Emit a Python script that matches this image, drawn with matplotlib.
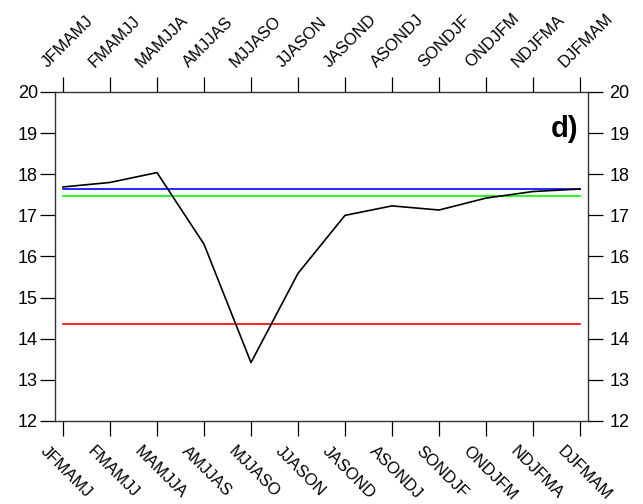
import numpy as np
import matplotlib
matplotlib.use('Agg')
import matplotlib.pyplot as plt
from matplotlib.transforms import ScaledTranslation

plt.rcParams['font.family'] = ['Liberation Sans', 'DejaVu Sans']

seasons = ['JFMAMJ', 'FMAMJJ', 'MAMJJA', 'AMJJAS', 'MJJASO', 'JJASON',
           'JASOND', 'ASONDJ', 'SONDJF', 'ONDJFM', 'NDJFMA', 'DJFMAM']
running = [17.69, 17.80, 18.04, 16.30, 13.42, 15.59,
           17.00, 17.23, 17.13, 17.42, 17.58, 17.64]
blue_level = 17.64
green_level = 17.47
red_level = 14.36

fig = plt.figure(figsize=(6.43, 5.04), dpi=100)
ax = fig.add_axes([0.0855, 0.1647, 0.829, 0.6528])

x = np.arange(len(seasons))
ax.plot(x, [blue_level] * len(x), color='#0000ff', lw=1.2)
ax.plot(x, [green_level] * len(x), color='#00ff00', lw=1.2)
ax.plot(x, [red_level] * len(x), color='#ff0000', lw=1.2)
ax.plot(x, running, color='black', lw=1.2)

ax.set_xlim(-0.17, 11.17)
ax.set_ylim(12, 20)
ax.set_yticks(range(12, 21))
ax.set_xticks(x)
ax.set_xticklabels(seasons)

for s in ax.spines.values():
    s.set_linewidth(1.0)
    s.set_color('#333333')

ax.tick_params(axis='x', direction='out', length=10.8, width=0.9,
               top=True, labeltop=True, pad=0, labelsize=12)
ax.tick_params(axis='y', direction='out', length=10.8, width=0.9,
               left=True, pad=1.5, labelsize=13)

# right-hand y axis with its own label spacing
ax2 = ax.twinx()
ax2.set_ylim(12, 20)
ax2.set_yticks(range(12, 21))
ax2.tick_params(axis='y', direction='out', length=10.8, width=0.9,
                pad=4.5, labelsize=13)
for s in ax2.spines.values():
    s.set_visible(False)

# rotated season labels, shifted off the tick a bit
dpi = fig.dpi
for tick in ax.xaxis.get_major_ticks():
    lb = tick.label1
    lb.set_rotation(-45)
    lb.set_rotation_mode('anchor')
    lb.set_ha('left')
    lb.set_va('top')
    lb.set_transform(lb.get_transform() +
                     ScaledTranslation(-15 / dpi, -8 / dpi, fig.dpi_scale_trans))
    lt = tick.label2
    lt.set_rotation(45)
    lt.set_rotation_mode('anchor')
    lt.set_ha('left')
    lt.set_va('baseline')
    lt.set_transform(lt.get_transform() +
                     ScaledTranslation(-15 / dpi, 9 / dpi, fig.dpi_scale_trans))

ax.text(0.981, 0.93, 'd)', transform=ax.transAxes, ha='right', va='top',
        fontsize=21, fontweight='bold')

fig.savefig('out.png', dpi=100)
